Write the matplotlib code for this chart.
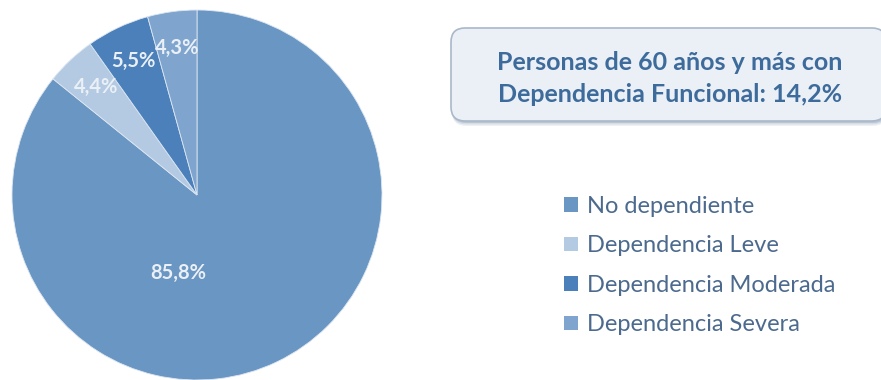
import matplotlib

matplotlib.use("Agg")
import matplotlib.pyplot as plt
from matplotlib.patches import FancyBboxPatch

W, H = 881, 380
plt.rcParams["font.family"] = ["Lato", "DejaVu Sans"]

categories = ["No dependiente", "Dependencia Leve",
              "Dependencia Moderada", "Dependencia Severa"]
shares = [85.8, 4.4, 5.5, 4.3]
pct_labels = ["85,8%", "4,4%", "5,5%", "4,3%"]
colors = ["#6A96C3", "#B4CAE2", "#4C80BB", "#7FA5CE"]
title_lines = ["Personas de 60 años y más con",
               "Dependencia Funcional: 14,2%"]

fig = plt.figure(figsize=(W / 100, H / 100), dpi=100)
fig.patch.set_facecolor("white")

# pie: centre ~(197,195) px, radius ~185 px
cx, cy, r = 197, 195, 185
ax = fig.add_axes([(cx - r) / W, (H - cy - r) / H, 2 * r / W, 2 * r / H])
wedges, texts = ax.pie(shares, colors=colors, startangle=90,
                       counterclock=False, labels=pct_labels,
                       labeldistance=0.8,
                       wedgeprops=dict(edgecolor="#DCE6F1", linewidth=0.6))
for t in texts:
    t.set_color("#EAF0F6")
    t.set_fontweight("bold")
    t.set_fontsize(14.5)
    t.set_ha("center")
    t.set_va("center")
# the big slice's label sits below the centre, not at the wedge midpoint
texts[0].set_position((-0.10, -0.42))
ax.set_xlim(-1, 1)
ax.set_ylim(-1, 1)
ax.set_aspect("equal")
ax.axis("off")

# rounded callout box with soft shadow
bx0, by0, bx1, by1 = 451, 28, 886, 121
for off, a in ((5, 0.15), (3.5, 0.25), (2, 0.4)):
    sh = FancyBboxPatch(((bx0 + 1) / W, (H - by1 - off) / H),
                        (bx1 - bx0) / W, (by1 - by0) / H,
                        boxstyle="round,pad=0,rounding_size=0.016",
                        transform=fig.transFigure, facecolor="#8FA3BB",
                        edgecolor="none", alpha=a, mutation_aspect=W / H)
    fig.add_artist(sh)
box = FancyBboxPatch((bx0 / W, (H - by1) / H),
                     (bx1 - bx0) / W, (by1 - by0) / H,
                     boxstyle="round,pad=0,rounding_size=0.016",
                     transform=fig.transFigure, facecolor="#EBF0F7",
                     edgecolor="#AAB8C9", linewidth=1.2,
                     mutation_aspect=W / H)
fig.add_artist(box)
for i, line in enumerate(title_lines):
    fig.text(670 / W, 1 - (63 + 32 * i) / H, line, ha="center", va="center",
             fontsize=18, fontweight="bold", color="#3D6B9B")

# legend
leg = fig.legend(wedges, categories, loc="upper left",
                 bbox_to_anchor=(564 / W, 1 - 196 / H), frameon=False,
                 fontsize=17, labelcolor="#4C6A8E", handlelength=0.58,
                 handleheight=0.58, handletextpad=0.38, labelspacing=0.78,
                 borderpad=0, borderaxespad=0)
for h in leg.legend_handles:
    h.set_edgecolor("none")

fig.savefig("out.png", dpi=100, facecolor="white")
